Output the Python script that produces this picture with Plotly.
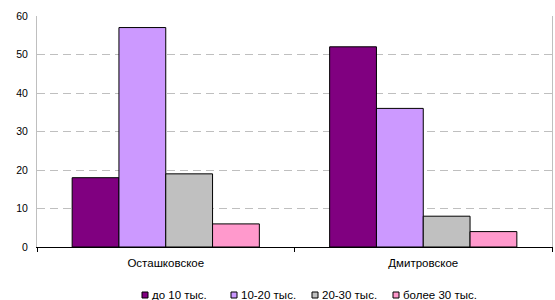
import plotly.graph_objects as go

categories = ["Осташковское", "Дмитровское"]
series_names = ["до 10 тыс.", "10-20 тыс.", "20-30 тыс.", "более 30 тыс."]
values_lt10 = [18, 52]
values_10_20 = [57, 36]
values_20_30 = [19, 8]
values_gt30 = [6, 4]
colors = ["#800080", "#CC99FF", "#C0C0C0", "#FF99CC"]
y_ticks = [0, 10, 20, 30, 40, 50, 60]

W, H = 555, 300
L, R, T, B = 37, 3, 16, 53
pw, ph = W - L - R, H - T - B

fig = go.Figure()
for name, vals, col in zip(series_names, [values_lt10, values_10_20, values_20_30, values_gt30], colors):
    fig.add_trace(go.Bar(x=categories, y=vals, name=name, showlegend=False,
                         marker=dict(color=col, line=dict(color="#000000", width=1))))

# custom compact legend (Excel style)
legend_px = [142, 231, 312, 393]
legend_y_px = 295
def px2x(px):
    return (px - L) / pw
def py2y(py):
    return (H - B - py) / ph
shapes = []
annotations = []
for name, col, lx in zip(series_names, colors, legend_px):
    shapes.append(dict(type="rect", xref="paper", yref="paper",
                       x0=px2x(lx), x1=px2x(lx + 6), y0=py2y(legend_y_px + 3), y1=py2y(legend_y_px - 3),
                       fillcolor=col, line=dict(color="#000000", width=1)))
    annotations.append(dict(text=name, xref="paper", yref="paper", x=px2x(lx + 8), y=py2y(legend_y_px),
                            xanchor="left", yanchor="middle", showarrow=False,
                            font=dict(size=11.5, color="#000000")))

fig.update_layout(
    width=W, height=H,
    margin=dict(l=L, r=R, t=T, b=B, autoexpand=False),
    paper_bgcolor="white", plot_bgcolor="white",
    barmode="group", bargap=0.273, bargroupgap=0,
    font=dict(family="Liberation Sans, Arial", size=10.5, color="#000000"),
    showlegend=False,
    shapes=shapes, annotations=annotations,
)
fig.update_xaxes(showline=True, linecolor="#000000", linewidth=1, ticks="outside",
                 ticklen=4, tickcolor="#000000", showgrid=False, mirror=False,
                 tickson="boundaries", automargin=False, tickfont=dict(size=11.5),
                 ticklabelstandoff=5)
fig.update_yaxes(range=[0, 60], tickvals=y_ticks, showgrid=True, gridcolor="#BFBFBF",
                 griddash="8px,5px", gridwidth=1, showline=True, linecolor="#BFBFBF",
                 mirror=True, zeroline=False, ticks="", tickfont=dict(size=10.5),
                 automargin=False, ticklabelstandoff=6)
fig.write_html("out.html", config={"displayModeBar": False},
               post_script="document.body.style.margin='0';")
